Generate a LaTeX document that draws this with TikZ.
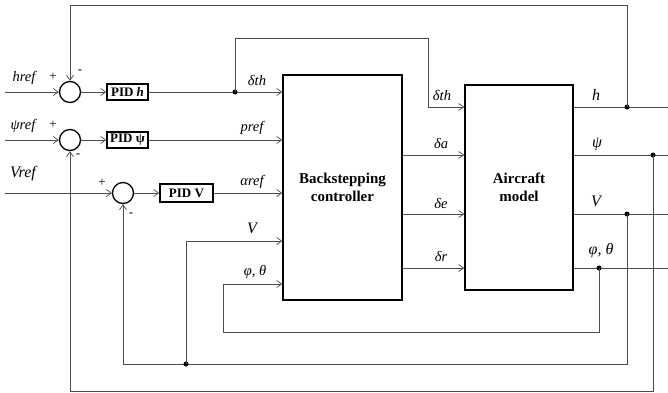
\documentclass[tikz,border=0pt]{standalone}
\usepackage{fontspec}
\setmainfont{Liberation Serif}
\usetikzlibrary{arrows.meta}
\begin{document}
\begin{tikzpicture}[x=1pt,y=-1pt,
  sig/.style={draw=black!70, line width=0.7pt},
  arr/.style={sig, -{Straight Barb[length=5pt,width=7pt,line width=0.7pt]}},
  blk/.style={draw, line width=1.5pt, fill=white, inner sep=0pt, align=center, font=\fontsize{13}{15}\selectfont\bfseries},
  bigblk/.style={blk, font=\fontsize{15}{17.5}\selectfont\bfseries},
  sumc/.style={draw, circle, line width=1.3pt, minimum size=21pt, inner sep=0pt},
  lbl/.style={font=\fontsize{14.5}{16}\selectfont\itshape, inner sep=0pt},
  biglbl/.style={lbl, font=\fontsize{16}{18}\selectfont\itshape},
  sgn/.style={font=\fontsize{13}{15}\selectfont, inner sep=0pt},
  jdot/.style={circle, fill=black, minimum size=5pt, inner sep=0pt},
]
\useasboundingbox (0,0) rectangle (668,392);

% summing junctions
\node[sumc] (sh) at (70,92) {};
\node[sumc] (sp) at (70,140) {};
\node[sumc] (sv) at (123,193) {};

% blocks
\node[blk, minimum width=41pt, minimum height=16pt] (pidh) at (127.5,92) {PID \textit{h}};
\node[blk, minimum width=41pt, minimum height=16pt] (pidp) at (127.5,140) {PID ψ};
\node[blk, minimum width=53pt, minimum height=18pt] (pidv) at (186.5,193) {PID V};
\node[bigblk, minimum width=119pt, minimum height=225pt] (ctrl) at (342.5,187.5) {Backstepping\\controller};
\node[bigblk, minimum width=108pt, minimum height=205pt] (ac) at (519,187.5) {Aircraft\\model};

% row coordinates
\coordinate (yh) at (0,107);
\coordinate (yp) at (0,155);
\coordinate (yv) at (0,214);
\coordinate (yf) at (0,268);
\coordinate (yvin) at (0,241);
\coordinate (yfin) at (0,284);

% inputs
\coordinate (hin) at (5,92);
\coordinate (pin) at (5,140);
\coordinate (vin) at (5,193);
\draw[arr] (hin) -- (sh);
\draw[arr] (pin) -- (sp);
\draw[arr] (vin) -- (sv);
\draw[arr] (sh) -- (pidh);
\draw[arr] (sp) -- (pidp);
\draw[arr] (sv) -- (pidv);
\draw[arr] (pidh.east) -- (pidh.east -| ctrl.west);
\draw[arr] (pidp.east) -- (pidp.east -| ctrl.west);
\draw[arr] (pidv.east) -- (pidv.east -| ctrl.west);

% delta_th branch
\node[jdot] (dth) at (235,92) {};
\coordinate (ta) at (235,38);
\coordinate (tb) at (428,38);
\draw[arr] (dth.center) -- (ta) -- (tb) -- (tb |- yh) -- (ac.west |- yh);

% controller to aircraft
\draw[arr] (ctrl.east |- yp) -- (ac.west |- yp);
\draw[arr] (ctrl.east |- yv) -- (ac.west |- yv);
\draw[arr] (ctrl.east |- yf) -- (ac.west |- yf);

% outputs
\coordinate (oh) at (668,107);
\coordinate (op) at (668,155);
\coordinate (ov) at (668,214);
\coordinate (of) at (668,268);
\draw[sig] (ac.east |- yh) -- (oh);
\draw[sig] (ac.east |- yp) -- (op);
\draw[sig] (ac.east |- yv) -- (ov);
\draw[sig] (ac.east |- yf) -- (of);

\node[jdot] (ho) at (627,107) {};
\node[jdot] (po) at (653,155) {};
\node[jdot] (vo) at (627,214) {};
\node[jdot] (fo) at (599,268) {};

% feedback h
\coordinate (fh1) at (627,5);
\coordinate (fh2) at (70,5);
\draw[arr] (ho.center) -- (fh1) -- (fh2) -- (sh);
% feedback psi
\coordinate (fp1) at (653,391);
\coordinate (fp2) at (70,391);
\draw[arr] (po.center) -- (fp1) -- (fp2) -- (sp);
% feedback V
\coordinate (fv1) at (627,364);
\coordinate (fv2) at (123,364);
\draw[arr] (vo.center) -- (fv1) -- (fv2) -- (sv);
\node[jdot] (vt) at (186,364) {};
\coordinate (vt1) at (186,241);
\draw[arr] (vt.center) -- (vt1) -- (ctrl.west |- yvin);
% feedback phi theta
\coordinate (ff1) at (599,332);
\coordinate (ff2) at (223,332);
\coordinate (ff3) at (223,284);
\draw[arr] (fo.center) -- (ff1) -- (ff2) -- (ff3) -- (ctrl.west |- yfin);

% labels
\node[lbl] (lh) at (24,78) {href};
\node[lbl] (lp) at (23,126) {ψref};
\node[biglbl] (lv) at (23,174) {Vref};
\node[lbl] (ldth) at (257,80) {δth};
\node[lbl] (lpref) at (252,128) {pref};
\node[lbl] (laref) at (252,182) {αref};
\node[biglbl] (lvin) at (252,228) {V};
\node[lbl] (lfin) at (255,272) {φ, θ};
\node[lbl] (ldth2) at (442,95) {δth};
\node[lbl] (lda) at (441,144) {δa};
\node[lbl] (lde) at (441,203) {δe};
\node[lbl] (ldr) at (441,256) {δr};
\node[biglbl] (loh) at (596,95) {h};
\node[biglbl] (lop) at (597,144) {ψ};
\node[biglbl] (lov) at (596,201) {V};
\node[biglbl] (lof) at (601,251) {φ, θ};

% signs
\node[sgn] (p1) at (53,77) {+};
\node[sgn] (m1) at (80,72) {-};
\node[sgn] (p2) at (53,125) {+};
\node[sgn] (m2) at (78,156) {-};
\node[sgn] (p3) at (102,183) {+};
\node[sgn] (m3) at (131,215) {-};
\end{tikzpicture}
\end{document}
